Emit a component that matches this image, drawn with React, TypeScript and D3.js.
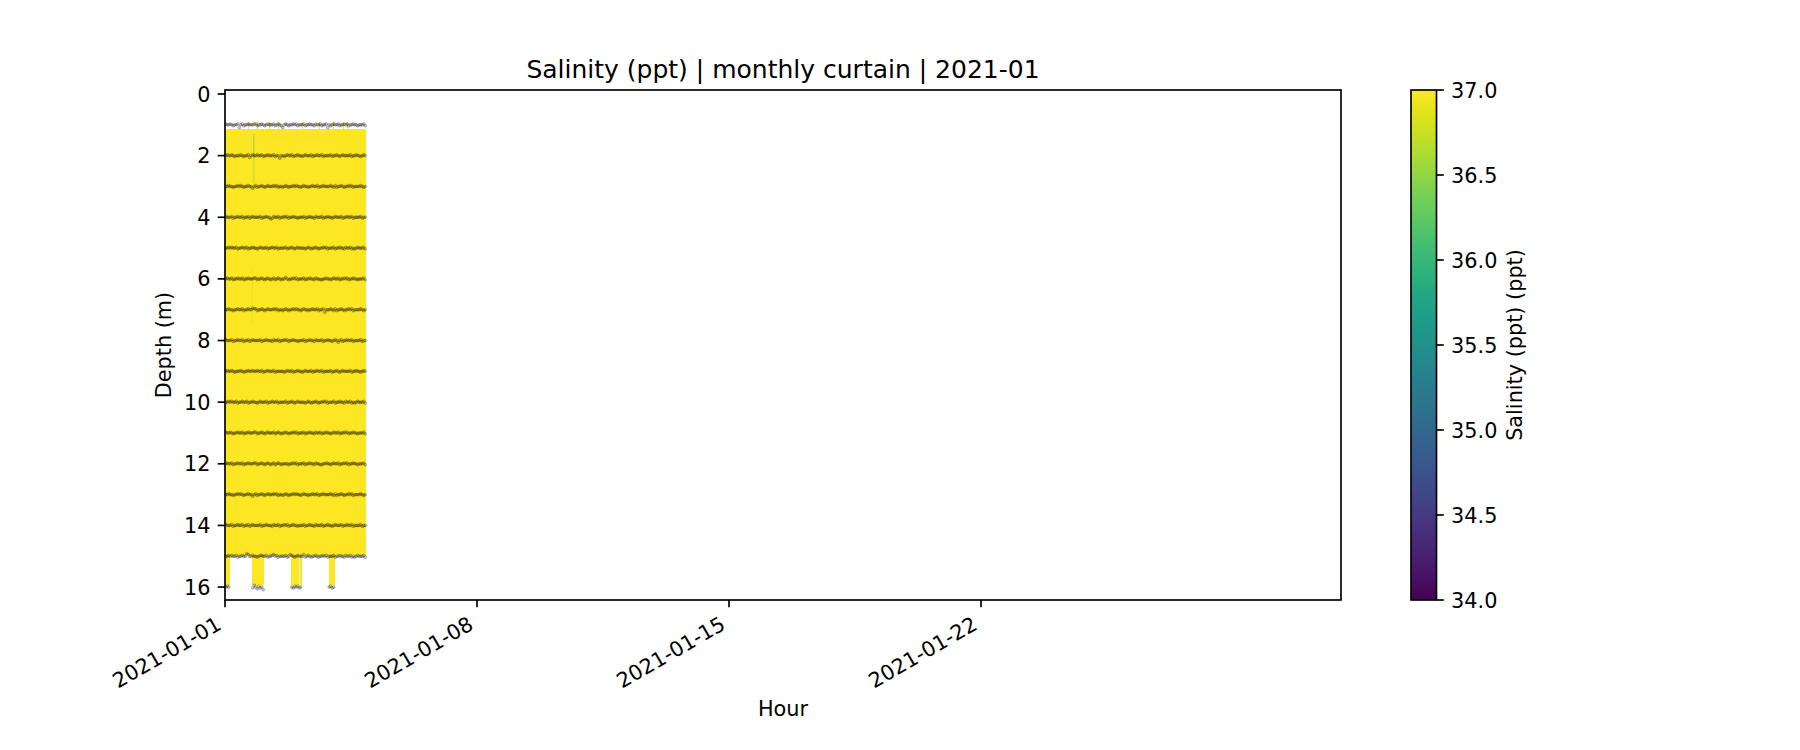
import React from "react";
import * as d3 from "d3";

// ---------- text ----------
const TITLE = "Salinity (ppt) | monthly curtain | 2021-01";
const X_LABEL = "Hour";
const Y_LABEL = "Depth (m)";
const CBAR_LABEL = "Salinity (ppt) (ppt)";

// ---------- axes ----------
const monthStart = Date.UTC(2021, 0, 1);
const monthEnd = Date.UTC(2021, 1, 1);
const xTickDates = ["2021-01-01", "2021-01-08", "2021-01-15", "2021-01-22"];
const yTicks = [0, 2, 4, 6, 8, 10, 12, 14, 16];
const yLimits = [-0.13, 16.42]; // top (surface) -> bottom
const cbarTicks = [34.0, 34.5, 35.0, 35.5, 36.0, 36.5, 37.0];
const cbarRange = [34, 37];

// ---------- curtain data ----------
const hoursWithData = 94; // hourly columns starting 2021-01-01 00:00
const meshSalinity = 37.2; // above colour max -> top of viridis
const meshTopDepth = 1.13;
const meshBottomDepth = 14.95;
const deepBottomDepth = 15.92;
const deepSpans = [
  [0, 3.3],
  [17.8, 26],
  [44, 49.3],
  [50, 51.1],
  [69.5, 73.5],
];
const spikeHours = [15.5, 21.3, 29.5, 35.5, 51.5, 62.5, 72.0, 78.5, 81.5];
const spikeTopDepth = 0.9;
const anomalies = [
  { hour: 18.7, top: 1.3, bottom: 2.1, value: 36.55 },
  { hour: 18.7, top: 2.1, bottom: 2.9, value: 36.72 },
  { hour: 17.7, top: 5.65, bottom: 7.4, value: 36.9 },
];

// sensor nominal depths and measured-depth offsets (char '5' = 0, step 0.028 m, '.' = no sample)
const sensorDepths = [1, 2, 3, 4, 5, 6, 7, 8, 9, 10, 11, 12, 13, 14, 15, 16];
const depthOffsetRows = [
  "4554565548 5465545554 4655456545 5546545685 4565545465 5546554556 4554655485 6545546554 5465545565 5546",
  "5455456555 4565547545 5455465545 5546558556 5455465545 5654555465 5455465555 4655456545 5554655455 6545",
  "5545565545 4565545575 4655456545 5545465565 4565545455 6545565545 5465545555 4564655456 5545465555 4565",
  "4555465545 5465546545 5554655455 7645546554 5465545565 5546554556 4555465545 5654555465 5455465555 4655",
  "5545455465 5455465545 5654555465 5455465555 4655456545 5556545655 4565545465 5546554556 4554656545 5546",
  "5455465545 5465545554 4655456545 6546545655 3565545465 5546554556 4556655455 6545546554 5465545565 5546",
  "5545565545 5465545534 4655456545 5545465565 4565545455 6545565545 5465548555 4564655456 5545465555 4565",
  "4555465545 5465546545 5554655455 5645546554 5465545565 5546554556 4555465545 5654575465 5455465555 4655",
  "5455456555 4565545545 5455465545 5546555556 5455465545 5654555465 5455465555 4655456545 5554655455 6545",
  "5545455465 5455465545 5654555465 5455465555 4655456545 5556545655 4565545465 5546554556 4554656545 5546",
  "4554565545 5465545554 4655456545 5546545655 4565545465 5546554556 4554655455 6545546554 5465545565 5546",
  "5455465545 5465545554 4655456545 6546545655 5565545465 5546554556 4556655455 6545546554 5465545565 5546",
  "5545565545 4565545575 4655456545 5545465565 4565545455 6545565545 5465545555 4564655456 5545465555 4565",
  "4555465545 5465546545 5554655455 5645546554 5465545565 5546554556 4555465545 5654555465 5455465555 4655",
  "5545455465 5455235545 5654455465 5435465555 4653456545 5536545655 4565545465 5546554556 4554656545 5546",
  "545....... ........63 574658.... .......... ....564546 5......... .........5 465....... .......... ....",
];
const offsetStep = 0.028;

// ---------- layout ----------
const W = 1800;
const H = 750;
const plot = { left: 225, right: 1341, top: 90, bottom: 600 };
const cbar = { left: 1411, right: 1436.5, top: 90, bottom: 600 };
const FONT = "DejaVu Sans";
const TICK_FS = 20.8;
const TICK_LEN = 7.3;
const TICK_PAD = 7.3;

export default function App() {
  const x = d3.scaleUtc().domain([new Date(monthStart), new Date(monthEnd)]).range([plot.left, plot.right]);
  const y = d3.scaleLinear().domain(yLimits).range([plot.top, plot.bottom]);
  const cy = d3.scaleLinear().domain(cbarRange).range([cbar.bottom, cbar.top]);
  const color = (v: number) =>
    d3.interpolateViridis(Math.max(0, Math.min(1, (v - cbarRange[0]) / (cbarRange[1] - cbarRange[0]))));
  const hx = (h: number) => x(new Date(monthStart + h * 3600e3));

  const meshColor = color(meshSalinity);
  const columns = d3.range(hoursWithData);

  const dots: { cx: number; cy: number; key: string }[] = [];
  depthOffsetRows.forEach((row, ri) => {
    const chars = row.replace(/ /g, "");
    chars.split("").forEach((c, hi) => {
      if (c === ".") return;
      const d = sensorDepths[ri] + (Number(c) - 5) * offsetStep;
      dots.push({ cx: hx(hi + 0.5), cy: y(d), key: `${ri}-${hi}` });
    });
  });

  const gradStops = d3.range(0, 1.0001, 0.05);
  const midY = (plot.top + plot.bottom) / 2;

  return (
    <svg
      width={W}
      height={H}
      style={{ position: "absolute", left: 0, top: 0, background: "#fff" }}
      fontFamily={FONT}
    >
      <defs>
        <clipPath id="plotClip">
          <rect x={plot.left} y={plot.top} width={plot.right - plot.left} height={plot.bottom - plot.top} />
        </clipPath>
        <linearGradient id="viridis" x1="0" y1="1" x2="0" y2="0">
          {gradStops.map((t) => (
            <stop key={t} offset={t} stopColor={d3.interpolateViridis(t)} />
          ))}
        </linearGradient>
      </defs>
      <rect x={0} y={0} width={W} height={H} fill="#fff" />

      <g clipPath="url(#plotClip)">
        {/* mesh columns */}
        <g shapeRendering="crispEdges">
          {columns.map((h) => (
            <rect
              key={h}
              x={hx(h)}
              y={y(meshTopDepth)}
              width={hx(h + 1) - hx(h) + 0.3}
              height={y(meshBottomDepth) - y(meshTopDepth)}
              fill={meshColor}
            />
          ))}
          {deepSpans.map(([a, b], i) => (
            <rect
              key={"d" + i}
              x={hx(a)}
              y={y(meshBottomDepth) - 0.5}
              width={hx(b) - hx(a)}
              height={y(deepBottomDepth) - y(meshBottomDepth) + 0.5}
              fill={meshColor}
            />
          ))}
          {spikeHours.map((h, i) => (
            <rect
              key={"s" + i}
              x={hx(h)}
              y={y(spikeTopDepth)}
              width={Math.max(1.2, hx(h + 0.7) - hx(h))}
              height={y(meshTopDepth) - y(spikeTopDepth) + 0.5}
              fill={meshColor}
            />
          ))}
        </g>
        {anomalies.map((a, i) => (
          <rect
            key={"a" + i}
            x={hx(a.hour)}
            y={y(a.top)}
            width={hx(a.hour + 1) - hx(a.hour)}
            height={y(a.bottom) - y(a.top)}
            fill={color(a.value)}
            opacity={0.85}
          />
        ))}
        {/* measured sensor depths */}
        {dots.map((d) => (
          <circle
            key={d.key}
            cx={d.cx}
            cy={d.cy}
            r={1.5}
            fill="#000"
            fillOpacity={0.22}
            stroke="#000"
            strokeOpacity={0.28}
            strokeWidth={0.7}
          />
        ))}
      </g>

      {/* frame */}
      <rect
        x={plot.left}
        y={plot.top}
        width={plot.right - plot.left}
        height={plot.bottom - plot.top}
        fill="none"
        stroke="#000"
        strokeWidth={1.67}
      />

      {/* y axis */}
      {yTicks.map((t) => (
        <g key={"y" + t}>
          <line x1={plot.left - TICK_LEN} x2={plot.left} y1={y(t)} y2={y(t)} stroke="#000" strokeWidth={1.67} />
          <text
            x={plot.left - TICK_LEN - TICK_PAD}
            y={y(t) + 0.365 * TICK_FS}
            textAnchor="end"
            fontSize={TICK_FS}
            fill="#000"
          >
            {t}
          </text>
        </g>
      ))}
      <text
        transform={`translate(171.3,${midY}) rotate(-90)`}
        textAnchor="middle"
        fontSize={TICK_FS}
        fill="#000"
      >
        {Y_LABEL}
      </text>

      {/* x axis */}
      {xTickDates.map((s) => {
        const xx = x(new Date(s + "T00:00:00Z"));
        return (
          <g key={s}>
            <line x1={xx} x2={xx} y1={plot.bottom} y2={plot.bottom + TICK_LEN} stroke="#000" strokeWidth={1.67} />
            <text
              transform={`translate(${xx - 2.2},${plot.bottom + TICK_LEN + TICK_PAD + 13.7}) rotate(-30)`}
              textAnchor="end"
              fontSize={TICK_FS}
              fill="#000"
            >
              {s}
            </text>
          </g>
        );
      })}
      <text x={(plot.left + plot.right) / 2} y={716} textAnchor="middle" fontSize={TICK_FS} fill="#000">
        {X_LABEL}
      </text>

      {/* title */}
      <text x={(plot.left + plot.right) / 2} y={77.5} textAnchor="middle" fontSize={25} fill="#000">
        {TITLE}
      </text>

      {/* colorbar */}
      <rect
        x={cbar.left}
        y={cbar.top}
        width={cbar.right - cbar.left}
        height={cbar.bottom - cbar.top}
        fill="url(#viridis)"
        stroke="#000"
        strokeWidth={1.67}
      />
      {cbarTicks.map((t) => (
        <g key={"c" + t}>
          <line x1={cbar.right} x2={cbar.right + TICK_LEN} y1={cy(t)} y2={cy(t)} stroke="#000" strokeWidth={1.67} />
          <text
            x={cbar.right + TICK_LEN + TICK_PAD}
            y={cy(t) + 0.365 * TICK_FS}
            textAnchor="start"
            fontSize={TICK_FS}
            fill="#000"
          >
            {t.toFixed(1)}
          </text>
        </g>
      ))}
      <text
        transform={`translate(1521.5,${midY}) rotate(-90)`}
        textAnchor="middle"
        fontSize={TICK_FS}
        fill="#000"
      >
        {CBAR_LABEL}
      </text>
    </svg>
  );
}
